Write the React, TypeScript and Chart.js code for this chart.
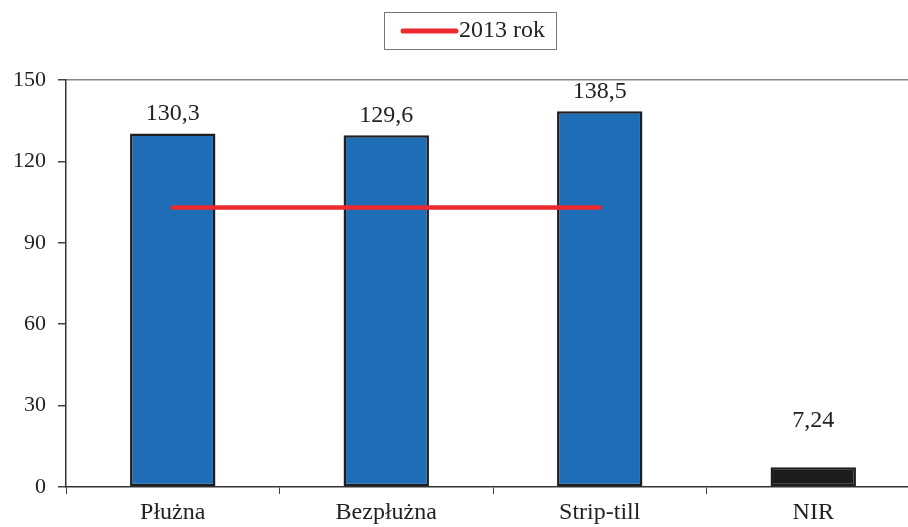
import React, { useEffect, useRef } from "react";
import { Chart, registerables } from "chart.js";

Chart.register(...registerables);

const categories = ["Płużna", "Bezpłużna", "Strip-till", "NIR"];
const barValues = [130.3, 129.6, 138.5, 7.24];
const barLabels = ["130,3", "129,6", "138,5", "7,24"];
const lineValues = [103, 103, 103, null];
const seriesName = "2013 rok";
const yTicks = [0, 30, 60, 90, 120, 150];

const FONT = '"Liberation Serif", "Times New Roman", serif';
const BLUE = "#1f6db6";
const DARK = "#1c1c1c";
const RED = "#ea2a2f";

const overlayPlugin = {
  id: "overlay",
  afterDatasetsDraw(chart: any) {
    const { ctx } = chart;
    const meta = chart.getDatasetMeta(1);
    ctx.save();
    ctx.fillStyle = "#222";
    ctx.font = `24px ${FONT}`;
    ctx.textAlign = "center";
    ctx.textBaseline = "bottom";
    meta.data.forEach((el: any, i: number) => {
      const extra = i === 3 ? 35 : 8;
      ctx.fillText(barLabels[i], el.x, el.y - extra);
    });
    // legend
    const bx = 384, by = 12, bw = 172, bh = 37;
    ctx.strokeStyle = "#777";
    ctx.lineWidth = 1;
    ctx.strokeRect(bx + 0.5, by + 0.5, bw, bh);
    ctx.strokeStyle = RED;
    ctx.lineWidth = 5;
    ctx.lineCap = "round";
    ctx.beginPath();
    ctx.moveTo(403, 31);
    ctx.lineTo(456, 31);
    ctx.stroke();
    ctx.font = `24px ${FONT}`;
    ctx.textAlign = "left";
    ctx.textBaseline = "middle";
    ctx.fillStyle = "#222";
    ctx.fillText(seriesName, 459, 31);
    ctx.restore();
  },
};

export default function App() {
  const ref = useRef<HTMLCanvasElement | null>(null);
  useEffect(() => {
    if (!ref.current) return;
    const chart = new Chart(ref.current, {
      type: "bar",
      data: {
        labels: categories,
        datasets: [
          {
            type: "line",
            label: seriesName,
            data: lineValues as any,
            borderColor: RED,
            borderWidth: 4.5,
            pointRadius: 0,
            borderCapStyle: "round",
            order: 0,
          } as any,
          {
            type: "bar",
            label: "bars",
            data: barValues,
            backgroundColor: [BLUE, BLUE, BLUE, DARK],
            borderColor: "#1e1e1e",
            borderWidth: 2.5,
            borderSkipped: false,
            barPercentage: 0.4,
            categoryPercentage: 1,
            order: 1,
          },
        ],
      },
      options: {
        animation: false,
        responsive: false,
        layout: { padding: { left: 0, right: 20, top: 80, bottom: 0 } },
        plugins: {
          legend: { display: false },
          tooltip: { enabled: false },
        },
        scales: {
          x: {
            offset: true,
            grid: {
              offset: true,
              drawOnChartArea: false,
              drawTicks: true,
              tickLength: 7,
              tickColor: "#444",
            },
            border: { color: "#333", width: 1.5 },
            ticks: {
              color: "#222",
              font: { family: FONT, size: 24 },
              padding: 4,
            },
            afterFit(scale: any) {
              scale.height = 40;
            },
          },
          y: {
            min: 0,
            max: 150,
            afterBuildTicks(scale: any) {
              scale.ticks = yTicks.map((v) => ({ value: v }));
            },
            grid: {
              color: (c: any) => (c.tick && c.tick.value === 150 ? "#888" : "transparent"),
              drawTicks: true,
              tickLength: 8,
              tickColor: "#444",
              lineWidth: 1.5,
            },
            border: { color: "#333", width: 1.5 },
            ticks: {
              color: "#222",
              font: { family: FONT, size: 22 },
              padding: 12,
            },
            afterFit(scale: any) {
              scale.width = 66;
            },
          },
        },
      },
      plugins: [overlayPlugin],
    });
    return () => chart.destroy();
  }, []);
  return (
    <div style={{ position: "fixed", left: 0, top: 0, width: 908, height: 527, overflow: "hidden", background: "#fff" }}>
      <canvas ref={ref} width={940} height={527} style={{ display: "block" }} />
    </div>
  );
}
